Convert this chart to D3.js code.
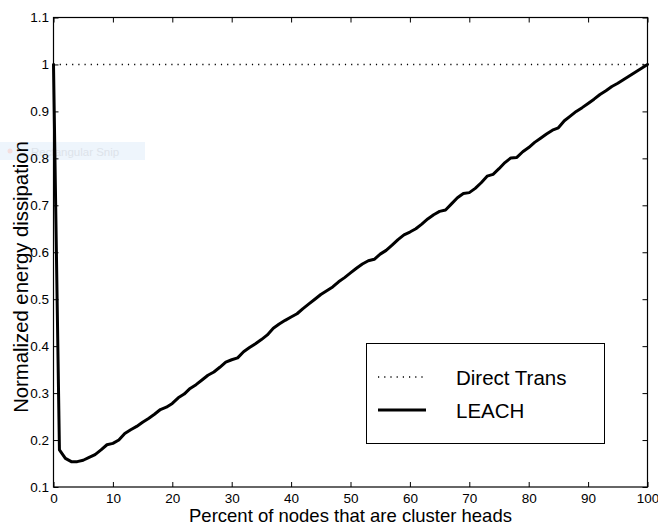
<!DOCTYPE html>
<html>
<head>
<meta charset="utf-8">
<script src="https://cdn.jsdelivr.net/npm/d3@7"></script>
<style>
  html, body { margin: 0; padding: 0; background: #fff; }
  svg { display: block; font-family: 'Liberation Sans', Arial, Helvetica, sans-serif; }
</style>
</head>
<body>
<div id="chart"></div>
<script>
// percent of nodes that are cluster heads
const percents = d3.range(0, 101)

// LEACH, normalized energy at each percent 0..100
const leach = [
  1.000, 0.179, 0.161, 0.154, 0.154, 0.157, 0.163, 0.169, 0.179, 0.190,
  0.193, 0.200, 0.214, 0.222, 0.229, 0.238, 0.246, 0.255, 0.265, 0.270,
  0.278, 0.290, 0.298, 0.310, 0.318, 0.328, 0.338, 0.345, 0.355, 0.366,
  0.371, 0.375, 0.388, 0.397, 0.405, 0.414, 0.424, 0.438, 0.447, 0.455,
  0.462, 0.469, 0.480, 0.490, 0.500, 0.510, 0.518, 0.526, 0.537, 0.546,
  0.556, 0.566, 0.575, 0.582, 0.585, 0.596, 0.604, 0.615, 0.627, 0.637,
  0.643, 0.650, 0.660, 0.671, 0.680, 0.687, 0.690, 0.703, 0.716, 0.725,
  0.727, 0.736, 0.748, 0.762, 0.766, 0.778, 0.791, 0.801, 0.802, 0.814,
  0.823, 0.834, 0.843, 0.852, 0.860, 0.865, 0.880, 0.890, 0.900, 0.908,
  0.917, 0.926, 0.936, 0.944, 0.953, 0.960, 0.968, 0.976, 0.984, 0.992,
  1.000,
]

// direct transmission is the baseline
const directX = [0, 100]
const directY = [1, 1]

const xTicks = [0, 10, 20, 30, 40, 50, 60, 70, 80, 90, 100]
const yTicks = [0.1, 0.2, 0.3, 0.4, 0.5, 0.6, 0.7, 0.8, 0.9, 1, 1.1]

const W = 658, H = 525
const plot = { left: 53.5, right: 647.5, top: 17.5, bottom: 487 }
const TICK = 5

const svg = d3.select('#chart').append('svg')
  .attr('width', W).attr('height', H)

const x = d3.scaleLinear().domain([0, 100]).range([plot.left, plot.right])
const y = d3.scaleLinear().domain([0.1, 1.1]).range([plot.bottom, plot.top])

// screenshot overlay left in the original picture
const snip = svg.append('g')
snip.append('rect')
  .attr('x', 0).attr('y', 142).attr('width', 145).attr('height', 18)
  .attr('fill', '#eef5fc')
snip.append('circle')
  .attr('cx', 10).attr('cy', 151).attr('r', 2.5)
  .attr('fill', '#f3dede')
snip.append('text')
  .attr('x', 31).attr('y', 155.5)
  .attr('font-size', '11.5px')
  .attr('fill', '#dde3ea')
  .text('Rectangular Snip')

// axes, ticks pointing inward on all four sides
const fmt = d => String(d)

svg.append('g')
  .attr('transform', `translate(0,${plot.bottom})`)
  .call(d3.axisBottom(x).tickValues(xTicks).tickFormat(fmt)
    .tickSizeInner(-TICK).tickSizeOuter(0).tickPadding(6.5))
svg.append('g')
  .attr('transform', `translate(0,${plot.top})`)
  .call(d3.axisTop(x).tickValues(xTicks).tickFormat('')
    .tickSizeInner(-TICK).tickSizeOuter(0))
svg.append('g')
  .attr('transform', `translate(${plot.left},0)`)
  .call(d3.axisLeft(y).tickValues(yTicks).tickFormat(fmt)
    .tickSizeInner(-TICK).tickSizeOuter(0).tickPadding(4.5))
svg.append('g')
  .attr('transform', `translate(${plot.right},0)`)
  .call(d3.axisRight(y).tickValues(yTicks).tickFormat('')
    .tickSizeInner(-TICK).tickSizeOuter(0))

svg.selectAll('.domain').remove()
svg.selectAll('.tick line').attr('stroke', '#000')
svg.selectAll('.tick text')
  .attr('font-size', '13.5px')
  .attr('font-family', "'Liberation Sans', Arial, Helvetica, sans-serif")
  .attr('fill', '#000')

svg.append('rect')
  .attr('x', plot.left).attr('y', plot.top)
  .attr('width', plot.right - plot.left).attr('height', plot.bottom - plot.top)
  .attr('fill', 'none').attr('stroke', '#000').attr('stroke-width', 1.2)

// series
const line = d3.line().x(d => x(d[0])).y(d => y(d[1]))

svg.append('path')
  .datum(d3.zip(directX, directY))
  .attr('d', line)
  .attr('fill', 'none')
  .attr('stroke', '#000')
  .attr('stroke-width', 1.4)
  .attr('stroke-dasharray', '1.2,5')

svg.append('path')
  .datum(d3.zip(percents, leach))
  .attr('d', line)
  .attr('fill', 'none')
  .attr('stroke', '#000')
  .attr('stroke-width', 3)
  .attr('stroke-linejoin', 'round')
  .attr('stroke-linecap', 'round')

// legend
const lg = svg.append('g')
lg.append('rect')
  .attr('x', 366.5).attr('y', 343.5).attr('width', 238).attr('height', 100)
  .attr('fill', '#fff').attr('stroke', '#000').attr('stroke-width', 1)

const items = [
  { label: 'Direct Trans', y: 377, dash: '1.2,5', sw: 1.4 },
  { label: 'LEACH', y: 410, dash: null, sw: 3 },
]
items.forEach(it => {
  lg.append('line')
    .attr('x1', 378).attr('x2', 426)
    .attr('y1', it.y).attr('y2', it.y)
    .attr('stroke', '#000')
    .attr('stroke-width', it.sw)
    .attr('stroke-dasharray', it.dash)
  lg.append('text')
    .attr('x', 456).attr('y', it.y + 7.5)
    .attr('font-size', '20.5px')
    .text(it.label)
})

// axis titles
svg.append('text')
  .attr('x', (plot.left + plot.right) / 2).attr('y', 522)
  .attr('text-anchor', 'middle')
  .attr('font-size', '18.5px')
  .text('Percent of nodes that are cluster heads')

svg.append('text')
  .attr('transform', 'translate(28,277) rotate(-90)')
  .attr('text-anchor', 'middle')
  .attr('font-size', '20.3px')
  .text('Normalized energy dissipation')
</script>
</body>
</html>
